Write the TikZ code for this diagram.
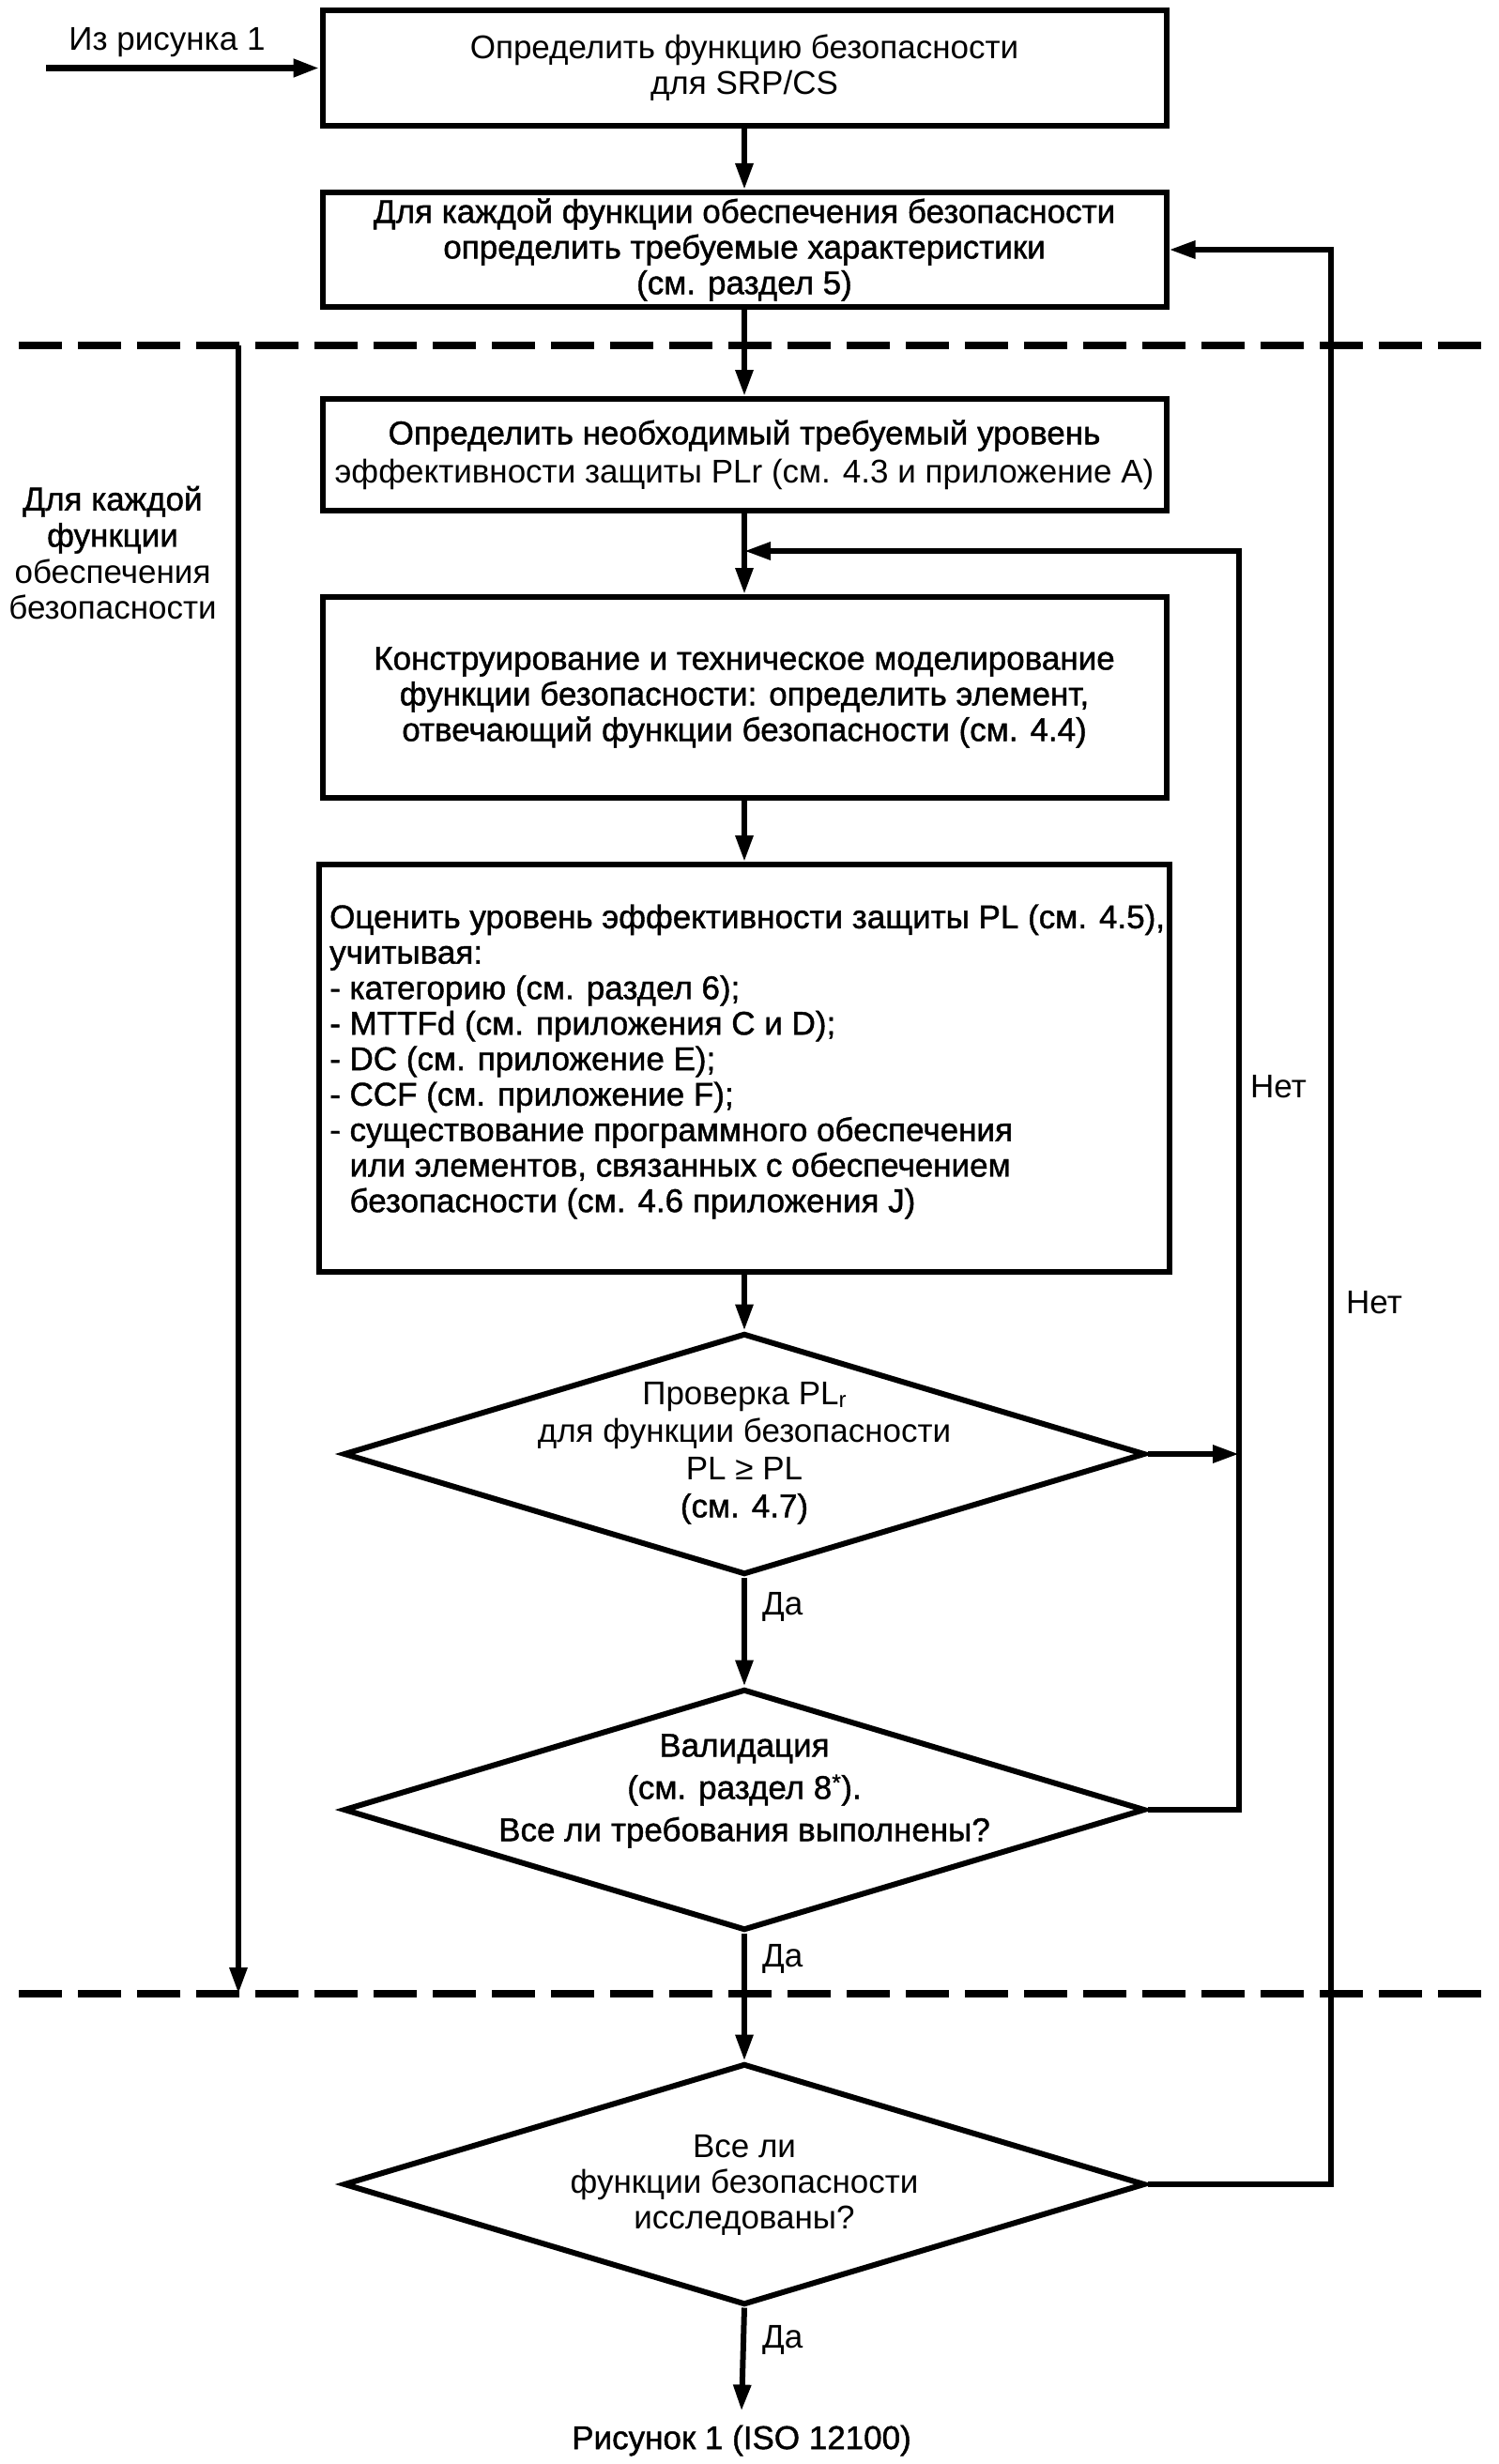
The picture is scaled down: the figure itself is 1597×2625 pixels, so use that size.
\documentclass[tikz,border=0pt]{standalone}
\usepackage{fontspec}
\setmainfont{Liberation Sans}[BoldFont={Liberation Sans},BoldFeatures={FakeBold=1.2}]
\usetikzlibrary{shapes.geometric,arrows.meta}
\begin{document}
\begin{tikzpicture}[x=1pt,y=-1pt,
  every node/.style={font=\fontsize{35}{38}\selectfont},
  box/.style={draw,line width=6pt,inner sep=0pt,minimum width=899pt,align=center},
  dia/.style={draw,diamond,line width=6pt,inner sep=0pt,minimum width=854pt,minimum height=257pt},
  txt/.style={inner sep=0pt,align=center},
  conn/.style={line width=6pt},
  arr/.style={conn,-{Triangle[length=28pt,width=18pt]}},
  sepline/.style={line width=8pt,dash pattern=on 46pt off 17pt}]
\useasboundingbox (0,0) rectangle (1597,2625);
\fill[white] (0,0) rectangle (1597,2625);

% boxes
\node[box,minimum height=123pt] (b1) at (793,72.5) {Определить функцию безопасности\\для SRP/CS};
\node[box,minimum height=122pt] (b2) at (793,266) {\bfseries Для каждой функции обеспечения безопасности\\\bfseries определить требуемые характеристики\\\bfseries (см. раздел 5)};
\node[box,minimum height=119pt,font=\fontsize{35}{41}\selectfont] (b3) at (793,484.5) {\bfseries Определить необходимый требуемый уровень\\эффективности защиты PLr (см. 4.3 и приложение A)};
\node[box,minimum height=214pt] (b4) at (793,743) {\bfseries Конструирование и техническое моделирование\\\bfseries функции безопасности: определить элемент,\\\bfseries отвечающий функции безопасности (см. 4.4)};
\node[box,minimum width=906pt,minimum height=434pt] (b5) at (793,1138) {};
\node[txt,anchor=west,align=left,font=\fontsize{35}{37.8}\selectfont\bfseries] (t5) at (351,1131) {Оценить уровень эффективности защиты PL (см. 4.5),\\учитывая:\\- категорию (см. раздел 6);\\- MTTFd (см. приложения C и D);\\- DC (см. приложение E);\\- CCF (см. приложение F);\\- существование программного обеспечения\\\phantom{- }или элементов, связанных с обеспечением\\\phantom{- }безопасности (см. 4.6 приложения J)};

% diamonds
\node[dia] (d1) at (793,1549) {};
\node[txt,font=\fontsize{35}{40}\selectfont] (t6) at (793,1548) {Проверка PL\raisebox{-3pt}{\fontsize{24}{24}\selectfont r}\\для функции безопасности\\PL ≥ PL\\\bfseries (см. 4.7)};
\node[dia] (d2) at (793,1928) {};
\node[txt,font=\fontsize{35}{45}\selectfont\bfseries] (t7) at (793,1908) {Валидация\\(см. раздел 8\textsuperscript{*}).\\Все ли требования выполнены?};
\node[dia] (d3) at (793,2327) {};
\node[txt,font=\fontsize{35}{38}\selectfont] (t8) at (793,2328) {Все ли\\функции безопасности\\исследованы?};

% labels
\node[txt] (from) at (178,45) {Из рисунка 1};
\node[txt,font=\fontsize{35}{38.7}\selectfont] (side) at (120,589) {\bfseries Для каждой\\\bfseries функции\\обеспечения\\безопасности};
\node[txt,anchor=west] (yes1) at (812,1712) {Да};
\node[txt,anchor=west] (yes2) at (812,2087) {Да};
\node[txt,anchor=west] (yes3) at (812,2493) {Да};
\node[txt] (no1) at (1362,1158) {Нет};
\node[txt] (no2) at (1464,1388) {Нет};
\node[txt,font=\fontsize{35}{38}\selectfont\bfseries] (fig) at (790,2600) {Рисунок 1 (ISO 12100)};

% coordinates
\coordinate (in1) at (49,72.5);
\coordinate (sL1) at (20,368);
\coordinate (sR1) at (1592,368);
\coordinate (sL2) at (20,2124);
\coordinate (sR2) at (1592,2124);
\coordinate (lt) at (254,368);
\coordinate (lb) at (254,2124);
\coordinate (j1) at (793,587);
\coordinate (r1) at (1320,587);
\coordinate (r2) at (1418,266);

% separators
\draw[sepline] (sL1) -- (sR1);
\draw[sepline] (sL2) -- (sR2);

% connectors
\draw[arr,line width=7pt] (in1) -- (b1.west);
\draw[arr] (b1.south) -- (b2.north);
\draw[arr] (b2.south) -- (b3.north);
\draw[arr] (b3.south) -- (b4.north);
\draw[arr] (b4.south) -- (b5.north);
\draw[arr] (b5.south) -- (d1.north);
\draw[arr] (d1.south) -- (d2.north);
\draw[arr] (d2.south) -- (d3.north);
\draw[arr] (d3.south) -- ([yshift=15pt]fig.north);
\draw[arr] (lt) -- (lb);
\draw[arr] (d1.east) -- (d1.east -| r1);
\draw[arr] (d2.east) -| (r1) -- (j1);
\draw[arr] (d3.east) -| (r2) -- (b2.east);
\end{tikzpicture}
\end{document}
